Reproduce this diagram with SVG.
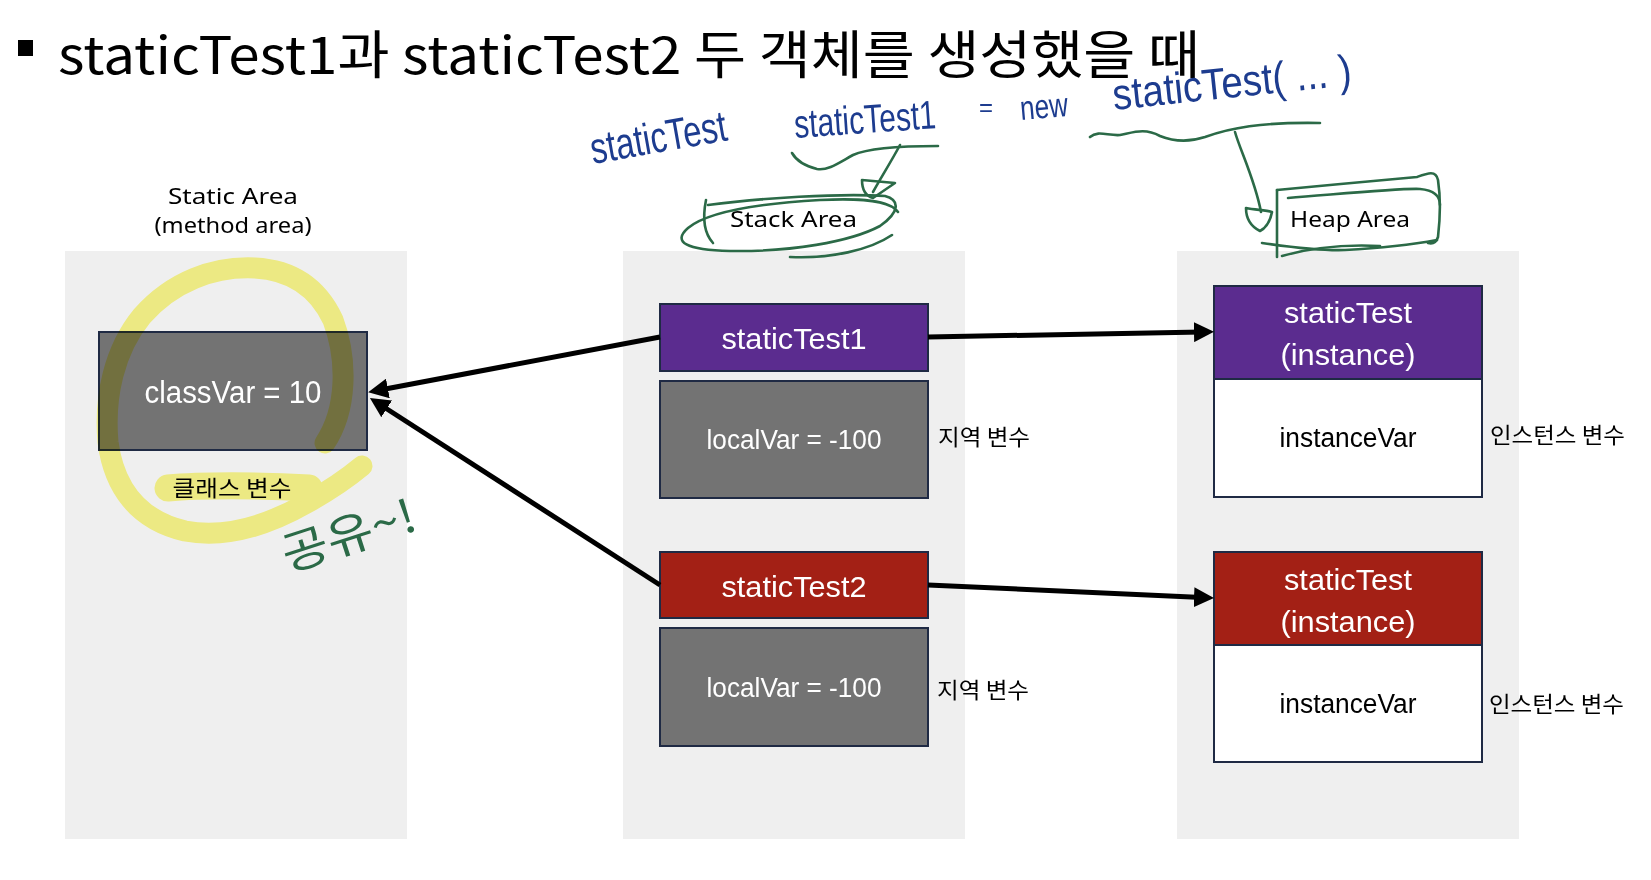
<svg xmlns="http://www.w3.org/2000/svg" width="1651" height="880" viewBox="0 0 1651 880">
<style>
.panel{fill:#efefef}
.box{stroke:#1f2a44;stroke-width:2}
.gray{fill:#737373}
.purple{fill:#5b2c8f}
.red{fill:#a32015}
.white{fill:#ffffff}
.t-in{font-family:"Liberation Sans",Arial,sans-serif;fill:#ffffff;text-anchor:middle}
.t-dark{font-family:"Liberation Sans",Arial,sans-serif;fill:#000;text-anchor:middle}
.kr{font-family:"Noto Sans CJK KR","Noto Sans",sans-serif;fill:#000;font-size:22px}
.area{font-family:"Noto Sans","Liberation Sans",sans-serif;fill:#000;font-size:22px}
.conn{stroke:#000;stroke-width:5;fill:none}
.hand{font-family:"Liberation Sans",Arial,sans-serif;fill:#1d3c8f}
.green{stroke:#2b6a47;stroke-width:2.6;fill:none;stroke-linecap:round;stroke-linejoin:round}
.hl{stroke:#fcf98c;fill:none;stroke-linecap:round;stroke-linejoin:round}
</style>
<defs>
<marker id="arr" markerUnits="userSpaceOnUse" viewBox="0 0 20 20" markerWidth="20" markerHeight="20" refX="8" refY="10" orient="auto">
<path d="M0,0 L20,10 L0,20 z" fill="#000"/>
</marker>
</defs>
<rect width="1651" height="880" fill="#fff"/>

<g id="title">
<rect x="18" y="40" width="15" height="16" fill="#000"/>
<text x="58" y="74" font-family="Noto Sans CJK KR, Noto Sans, sans-serif" font-size="52" textLength="1142" lengthAdjust="spacingAndGlyphs" fill="#000">staticTest1과 staticTest2 두 객체를 생성했을 때</text>
</g>

<g id="static-area">
<rect class="panel" x="65" y="251" width="342" height="588"/>
<text class="area" x="233" y="204" text-anchor="middle" textLength="130" lengthAdjust="spacingAndGlyphs">Static Area</text>
<text class="area" x="233" y="233" text-anchor="middle" textLength="157" lengthAdjust="spacingAndGlyphs">(method area)</text>
</g>
<g id="stack-area">
<rect class="panel" x="623" y="251" width="342" height="588"/>
<text class="area" x="730" y="227" textLength="127" lengthAdjust="spacingAndGlyphs">Stack Area</text>
</g>
<g id="heap-area">
<rect class="panel" x="1177" y="251" width="342" height="588"/>
<text class="area" x="1290" y="227" textLength="120" lengthAdjust="spacingAndGlyphs">Heap Area</text>
</g>

<g id="classVar">
<rect class="box gray" x="99" y="332" width="268" height="118"/>
<text class="t-in" x="233" y="403" font-size="31" textLength="177" lengthAdjust="spacingAndGlyphs">classVar = 10</text>
<text class="kr" x="232" y="496" text-anchor="middle" textLength="119" lengthAdjust="spacingAndGlyphs">클래스 변수</text>
</g>

<g id="staticTest1">
<rect class="box purple" x="660" y="304" width="268" height="67"/>
<text class="t-in" x="794" y="349" font-size="29" textLength="145" lengthAdjust="spacingAndGlyphs">staticTest1</text>
</g>
<g id="localVar1">
<rect class="box gray" x="660" y="381" width="268" height="117"/>
<text class="t-in" x="794" y="449" font-size="27" textLength="175" lengthAdjust="spacingAndGlyphs">localVar = -100</text>
<text class="kr" x="938" y="445" textLength="92" lengthAdjust="spacingAndGlyphs">지역 변수</text>
</g>
<g id="staticTest2">
<rect class="box red" x="660" y="552" width="268" height="66"/>
<text class="t-in" x="794" y="597" font-size="29" textLength="145" lengthAdjust="spacingAndGlyphs">staticTest2</text>
</g>
<g id="localVar2">
<rect class="box gray" x="660" y="628" width="268" height="118"/>
<text class="t-in" x="794" y="697" font-size="27" textLength="175" lengthAdjust="spacingAndGlyphs">localVar = -100</text>
<text class="kr" x="937" y="698" textLength="92" lengthAdjust="spacingAndGlyphs">지역 변수</text>
</g>

<g id="instance1">
<rect class="box white" x="1214" y="379" width="268" height="118"/>
<rect class="box purple" x="1214" y="286" width="268" height="93"/>
<text class="t-in" x="1348" y="323" font-size="29" textLength="128" lengthAdjust="spacingAndGlyphs">staticTest</text>
<text class="t-in" x="1348" y="365" font-size="29" textLength="135" lengthAdjust="spacingAndGlyphs">(instance)</text>
<text class="t-dark" x="1348" y="447" font-size="27" textLength="137" lengthAdjust="spacingAndGlyphs">instanceVar</text>
<text class="kr" x="1490" y="443" textLength="135" lengthAdjust="spacingAndGlyphs">인스턴스 변수</text>
</g>
<g id="instance2">
<rect class="box white" x="1214" y="645" width="268" height="117"/>
<rect class="box red" x="1214" y="552" width="268" height="93"/>
<text class="t-in" x="1348" y="590" font-size="29" textLength="128" lengthAdjust="spacingAndGlyphs">staticTest</text>
<text class="t-in" x="1348" y="632" font-size="29" textLength="135" lengthAdjust="spacingAndGlyphs">(instance)</text>
<text class="t-dark" x="1348" y="713" font-size="27" textLength="137" lengthAdjust="spacingAndGlyphs">instanceVar</text>
<text class="kr" x="1489" y="712" textLength="135" lengthAdjust="spacingAndGlyphs">인스턴스 변수</text>
</g>

<g id="connectors">
<line class="conn" x1="928" y1="337" x2="1202" y2="332" marker-end="url(#arr)"/>
<line class="conn" x1="928" y1="585" x2="1202" y2="597.5" marker-end="url(#arr)"/>
<line class="conn" x1="660" y1="337" x2="380" y2="390" marker-end="url(#arr)"/>
<line class="conn" x1="660" y1="585" x2="380" y2="404.5" marker-end="url(#arr)"/>
</g>

<g id="highlight" style="mix-blend-mode:multiply">
<path class="hl" stroke-width="21" d="M325,443 C347,410 348,360 333,320 C318,288 292,270 255,268 C213,266 172,282 142,316 C114,350 104,397 108,442 C114,488 138,520 185,531 C228,539 272,523 307,503 C332,489 350,476 362,466"/>
<path class="hl" stroke-width="27" d="M168,488 C200,485 260,485 309,488"/>
</g>

<g id="annotations">
<text class="hand" transform="translate(593,164) rotate(-10)" font-size="44" textLength="138" lengthAdjust="spacingAndGlyphs">staticTest</text>
<text class="hand" transform="translate(795,138) rotate(-4)" font-size="40" textLength="142" lengthAdjust="spacingAndGlyphs">staticTest1</text>
<text class="hand" x="979" y="116" font-size="26" textLength="14" lengthAdjust="spacingAndGlyphs">=</text>
<text class="hand" transform="translate(1021,120) rotate(-5)" font-size="34" textLength="48" lengthAdjust="spacingAndGlyphs">new</text>
<text class="hand" transform="translate(1114,110) rotate(-6)" font-size="44" textLength="240" lengthAdjust="spacingAndGlyphs">staticTest( ... )</text>

<path class="green" d="M792,153 C796,160 805,166 817,169 C828,171 840,162 853,155 C866,149 890,146 938,146"/>
<path class="green" d="M900,145 C892,160 882,176 873,192"/>
<path class="green" d="M862,180 L895,183 L873,198 C866,196 862,190 862,180"/>
<path class="green" d="M706,200 C703,215 703,232 713,243"/>
<path class="green" d="M708,205 C760,198 840,193 885,196 C900,200 900,212 880,226 C850,242 790,252 730,251 C686,250 672,242 688,228 C705,214 750,204 820,200 C860,198 890,200 898,212"/>
<path class="green" d="M790,257 C830,259 870,250 892,235"/>

<path class="green" d="M1090,137 C1098,130 1108,136 1120,135 C1135,132 1145,128 1160,136 C1175,142 1190,142 1205,137 C1230,128 1260,122 1320,123"/>
<path class="green" d="M1235,132 C1240,150 1255,180 1261,212"/>
<path class="green" d="M1246,208 C1256,210 1266,210 1272,212 C1270,222 1266,228 1260,231 C1250,226 1246,218 1246,208"/>
<path class="green" d="M1277,190 L1277,257"/>
<path class="green" d="M1277,190 C1320,186 1380,180 1417,177 C1428,173 1436,170 1438,180 C1441,200 1440,220 1438,237 C1436,243 1432,244 1428,243"/>
<path class="green" d="M1288,198 C1340,194 1400,188 1420,189 C1432,190 1440,195 1440,205"/>
<path class="green" d="M1262,243 C1290,247 1320,251 1345,250 C1380,248 1415,244 1437,240"/>
<path class="green" d="M1282,256 C1310,248 1340,244 1380,246"/>

<text transform="translate(288,572) rotate(-18)" font-family="Noto Sans CJK KR, sans-serif" font-size="46" fill="#2b6a47" textLength="138" lengthAdjust="spacingAndGlyphs">공유~!</text>
</g>
</svg>
